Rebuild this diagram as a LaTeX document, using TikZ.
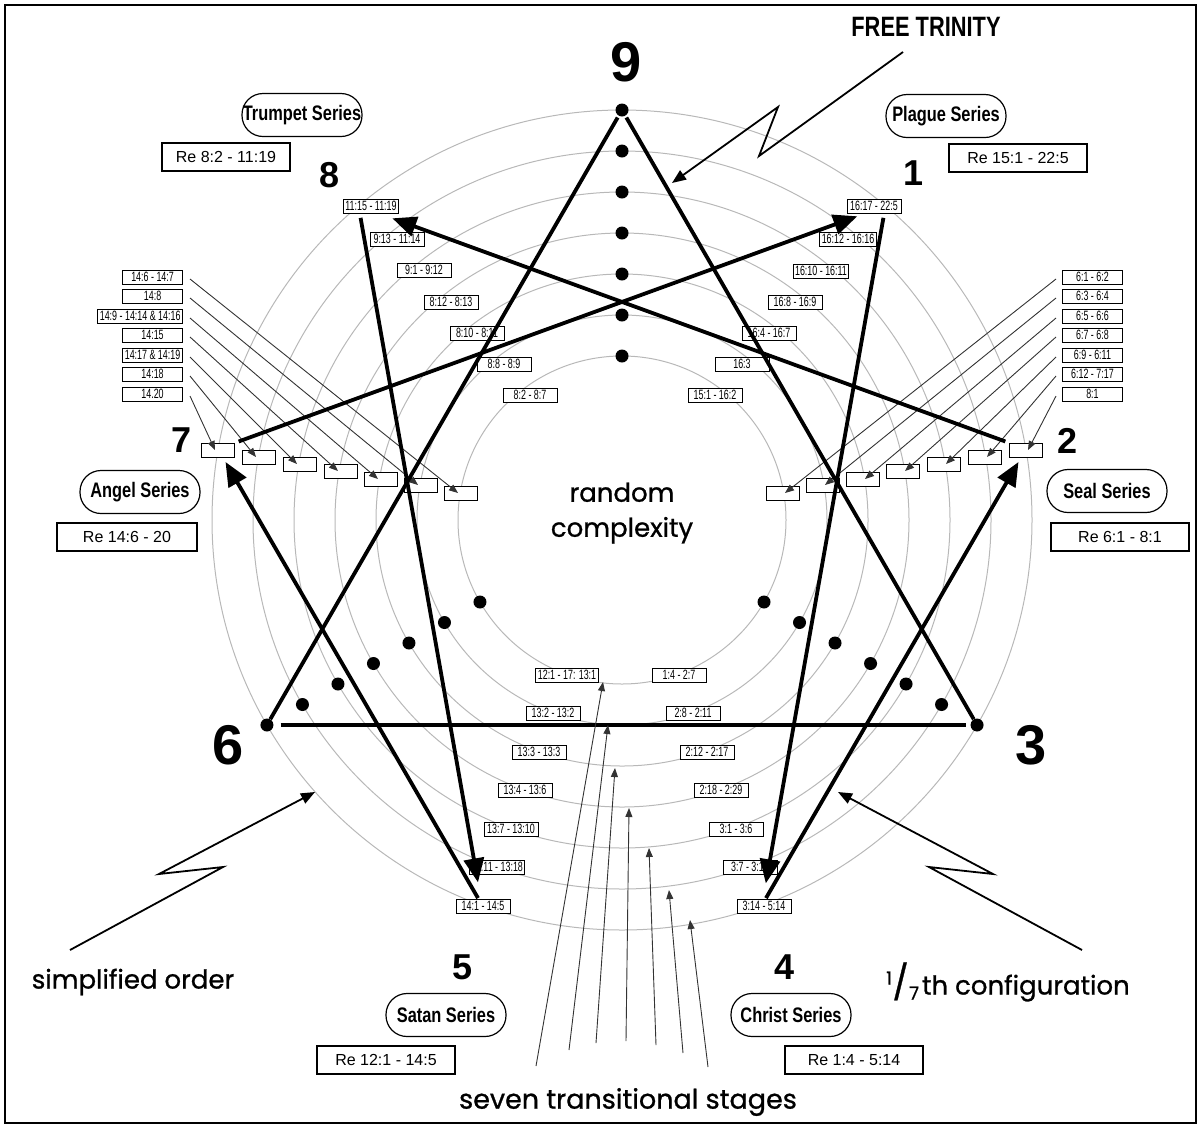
\documentclass[tikz,border=0pt]{standalone}
\usepackage{fontspec}
\setmainfont{Liberation Sans}
\newfontfamily\condfont[FakeStretch=0.78]{Liberation Sans}
\newfontfamily\tinyfont[FakeStretch=0.66]{Liberation Sans}
\newfontfamily\geofont[FakeBold=0.9]{Poppins}
\usetikzlibrary{arrows.meta}
\begin{document}
\begin{tikzpicture}[x=1pt,y=-1pt,
  ring/.style={draw=black!28, line width=1pt},
  heavy/.style={line width=3.8pt},
  bigarrow/.style={heavy, -{Triangle[length=24pt,width=20pt]}},
  thinarrow/.style={line width=0.9pt, draw=black!80, -{Triangle[length=9pt,width=7pt]}},
  zig/.style={line width=1.8pt, line join=miter, -{Triangle[length=14pt,width=11pt]}},
  ref/.style={draw, line width=0.9pt, fill=white, minimum width=54pt, minimum height=14pt, inner xsep=2pt, inner ysep=0pt, font=\tinyfont\fontsize{13.5}{13.5}\selectfont},
  emptybox/.style={draw, line width=1pt, fill=white, minimum width=33pt, minimum height=14pt, inner sep=0pt},
  side/.style={draw, line width=0.9pt, fill=white, minimum width=60pt, minimum height=14pt, inner xsep=2pt, inner ysep=0pt, font=\tinyfont\fontsize{13.5}{13.5}\selectfont},
  series/.style={draw, line width=1.2pt, rounded corners=21pt, minimum width=120pt, minimum height=43pt, inner sep=0pt, font=\condfont\bfseries\fontsize{21}{21}\selectfont},
  rebox/.style={draw, line width=1.2pt, minimum height=28pt, inner sep=0pt, font=\fontsize{16}{16}\selectfont},
  num/.style={font=\bfseries\fontsize{36}{36}\selectfont},
  bignum/.style={font=\bfseries\fontsize{56}{56}\selectfont},
  dot/.style={circle, fill=black, minimum size=13pt, inner sep=0pt},
  geo/.style={font=\geofont\fontsize{26}{35}\selectfont}
]
\useasboundingbox (0,0) rectangle (1201,1128);
\draw[line width=2pt] (5,5) rectangle (1196,1123);

% concentric circles
\foreach \r in {164,205,246,287,328,369,410}
  \draw[ring] (622,520) circle[radius=\r];

% reference boxes, 8 side and 1 side
\node[ref] (a1) at (371,206) {11:15 - 11:19};
\node[ref] (a2) at (397,239) {9:13 - 11:14};
\node[ref] (a3) at (424,270) {9:1 - 9:12};
\node[ref] (a4) at (451,302) {8:12 - 8:13};
\node[ref] (a5) at (477,333) {8:10 - 8:11};
\node[ref] (a6) at (504,364) {8:8 - 8:9};
\node[ref] (a7) at (530,395) {8:2 - 8:7};
\node[ref] (b1) at (874,206) {16:17 - 22:5};
\node[ref] (b2) at (848,239) {16:12 - 16:16};
\node[ref] (b3) at (821,271) {16:10 - 16:11};
\node[ref] (b4) at (795,302) {16:8 - 16:9};
\node[ref] (b5) at (769,333) {16:4 - 16:7};
\node[ref] (b6) at (742,364) {16:3};
\node[ref] (b7) at (715,395) {15:1 - 16:2};

% reference boxes, 5 side and 4 side
\node[ref, minimum width=60pt] (c1) at (567,675) {12:1 - 17: 13:1};
\node[ref] (c2) at (553,713) {13:2 - 13:2};
\node[ref] (c3) at (539,752) {13:3 - 13:3};
\node[ref] (c4) at (525,790) {13:4 - 13:6};
\node[ref] (c5) at (511,829) {13:7 - 13:10};
\node[ref] (c6) at (497,867) {13:11 - 13:18};
\node[ref] (c7) at (483,906) {14:1 - 14:5};
\node[ref] (r1) at (679,675) {1:4 - 2:7};
\node[ref] (r2) at (693,713) {2:8 - 2:11};
\node[ref] (r3) at (707,752) {2:12 - 2:17};
\node[ref] (r4) at (721,790) {2:18 - 2:29};
\node[ref] (r5) at (736,829) {3:1 - 3:6};
\node[ref] (r6) at (750,867) {3:7 - 3:13};
\node[ref] (r7) at (764,906) {3:14 - 5:14};

% empty boxes on the 7 and 2 sides
\foreach \d/\y [count=\i] in {404/450,363/457,322/464,281/471,241/479,201/485,161/493}{
  \node[emptybox] (e7-\i) at ({622-\d},\y) {};
  \node[emptybox] (e2-\i) at ({622+\d},\y) {};
}

% side labels
\node[side, anchor=east] (L1) at (183,277) {14:6 - 14:7};
\node[side, anchor=east] (L2) at (183,296) {14:8};
\node[side, anchor=east] (L3) at (183,316) {14:9 - 14:14 \& 14:16};
\node[side, anchor=east] (L4) at (183,335) {14:15};
\node[side, anchor=east] (L5) at (183,355) {14:17 \& 14:19};
\node[side, anchor=east] (L6) at (183,374) {14:18};
\node[side, anchor=east] (L7) at (183,394) {14.20};
\node[side, anchor=west] (R1) at (1062,277) {6:1 - 6:2};
\node[side, anchor=west] (R2) at (1062,296) {6:3 - 6:4};
\node[side, anchor=west] (R3) at (1062,316) {6:5 - 6:6};
\node[side, anchor=west] (R4) at (1062,335) {6:7 - 6:8};
\node[side, anchor=west] (R5) at (1062,355) {6:9 - 6:11};
\node[side, anchor=west] (R6) at (1062,374) {6:12 - 7:17};
\node[side, anchor=west] (R7) at (1062,394) {8:1\hspace{22pt}};

\foreach \k [evaluate=\k as \j using int(8-\k)] in {1,...,7}{
  \draw[thinarrow] ([xshift=7pt,yshift=-2pt]L\k.east) -- ([xshift=-3pt]e7-\j.center);
  \draw[thinarrow] ([xshift=-6pt,yshift=-2pt]R\k.west) -- ([xshift=2pt]e2-\j.center);
}

% dots on the trinity lines
\foreach \r [count=\i] in {410,369,328,287,246,205,164}{
  \node[dot] (d9-\i) at (622,{520-\r}) {};
  \node[dot] (d3-\i) at ({622+0.866*\r},{520+0.5*\r}) {};
  \node[dot] (d6-\i) at ({622-0.866*\r},{520+0.5*\r}) {};
}

% triangle 9-3-6
\draw[heavy, shorten <=2pt, shorten >=0pt] (d9-1) -- (d6-1);
\draw[heavy, shorten <=2pt, shorten >=0pt] (d9-1) -- (d3-1);
\draw[heavy, shorten <=7pt, shorten >=4pt] (d6-1) -- (d3-1);

% hexad
\coordinate (p1) at (885.5,206);
\coordinate (p2) at (1026,449);
\coordinate (p4) at (762,905);
\coordinate (p5) at (482,905);
\coordinate (p7) at (218,449);
\coordinate (p8) at (358.5,206);
\draw[bigarrow, shorten <=12pt, shorten >=22pt] (p1) -- (p4);
\draw[bigarrow, shorten <=8pt, shorten >=15pt] (p4) -- (p2);
\draw[bigarrow, shorten <=22pt, shorten >=36pt] (p2) -- (p8);
\draw[bigarrow, shorten <=12pt, shorten >=23pt] (p8) -- (p5);
\draw[bigarrow, shorten <=8pt, shorten >=15pt] (p5) -- (p7);
\draw[bigarrow, shorten <=22pt, shorten >=30pt] (p7) -- (p1);

% numbers
\node[bignum] (n9) at (626,62) {9};
\node[bignum] (n3) at (1031,745) {3};
\node[bignum] (n6) at (228,745) {6};
\node[num] (n1) at (913,173) {1};
\node[num] (n8) at (330,175) {8};
\node[num] (n7) at (182,440) {7};
\node[num] (n2) at (1067,441) {2};
\node[num] (n4) at (784,967) {4};
\node[num] (n5) at (463,967) {5};

% series labels
\node[series] (s8) at (302,115) {Trumpet Series};
\node[rebox, minimum width=128pt] (q8) at (226,157) {Re 8:2 - 11:19};
\node[series] (s1) at (946,116) {Plague Series};
\node[rebox, minimum width=138pt] (q1) at (1018,158) {Re 15:1 - 22:5};
\node[series] (s7) at (140,492) {Angel Series};
\node[rebox, minimum width=140pt] (q7) at (127,537) {Re 14:6 - 20};
\node[series] (s2) at (1107,491) {Seal Series};
\node[rebox, minimum width=138pt] (q2) at (1120,537) {Re 6:1 - 8:1};
\node[series] (s5) at (446,1015) {Satan Series};
\node[rebox, minimum width=138pt] (q5) at (386,1060) {Re 12:1 - 14:5};
\node[series] (s4) at (791,1015) {Christ Series};
\node[rebox, minimum width=138pt] (q4) at (854,1060) {Re 1:4 - 5:14};

% centre text
\node[geo, align=center] (rc) at (622,513) {random\\complexity};

% FREE TRINITY
\node[font=\condfont\bfseries\fontsize{28}{28}\selectfont] (ft) at (926,27) {FREE TRINITY};
\coordinate (ftA) at (903,52);
\coordinate (ftB) at (759,156);
\coordinate (ftC) at (778,107);
\coordinate (ftD) at (672,183);
\draw[zig] (ftA) -- (ftB) -- (ftC) -- (ftD);

% simplified order
\node[geo] (so) at (133,982) {simplified order};
\coordinate (soA) at (70,950);
\coordinate (soB) at (223,867);
\coordinate (soC) at (159,874);
\coordinate (soD) at (315,792);
\draw[zig] (soA) -- (soB) -- (soC) -- (soD);

% 1/7th configuration
\node[geo, inner sep=0pt] (sc) at (1008,982) {{\fontsize{18}{18}\selectfont\raisebox{10pt}{1}}\kern0.5pt{\fontsize{34}{34}\selectfont/}\kern0.5pt{\fontsize{18}{18}\selectfont\raisebox{-5pt}{7}}\kern3pt th configuration};
\coordinate (scA) at (1082,950);
\coordinate (scB) at (929,867);
\coordinate (scC) at (993,874);
\coordinate (scD) at (838,792);
\draw[zig] (scA) -- (scB) -- (scC) -- (scD);

% seven transitional stages
\node[geo, font=\geofont\fontsize{27}{27}\selectfont] (st) at (628,1102) {seven transitional stages};
\foreach \tx/\ty/\bx/\by [count=\i] in {603/682/536/1066, 608/725/569/1050, 615/768/596/1043, 629/808/626/1041, 649/848/656/1045, 669/890/683/1053, 690/920/708/1067}{
  \coordinate (tip\i) at (\tx,\ty);
  \coordinate (foot\i) at (\bx,\by);
  \draw[thinarrow] (foot\i) -- (tip\i);
}
\end{tikzpicture}
\end{document}
